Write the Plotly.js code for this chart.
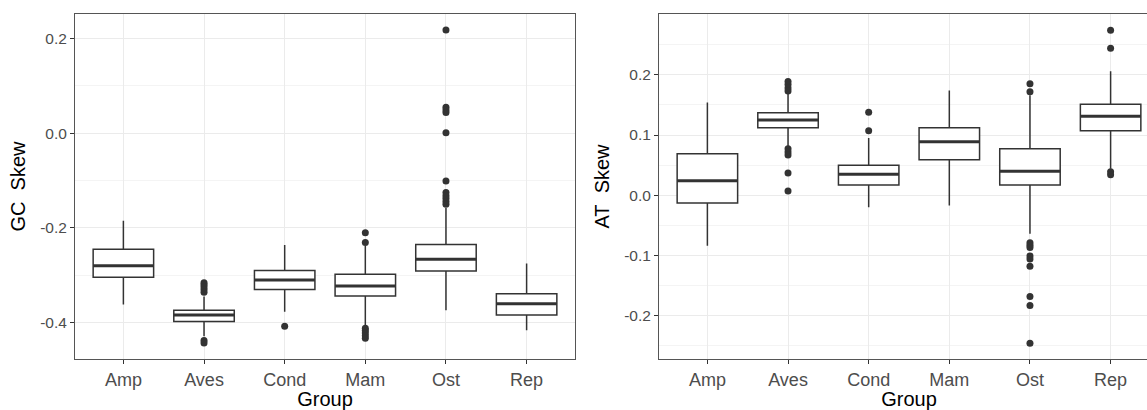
<!DOCTYPE html>
<html>
<head>
<meta charset="utf-8">
<script src="https://cdn.plot.ly/plotly-3.0.1.min.js"></script>
<style>
  html, body { margin: 0; padding: 0; background: #fff; overflow: hidden; }
  #chart { width: 1160px; height: 410px; }
</style>
</head>
<body>
<div id="chart"></div>
<script>
// Taxonomic groups on the x axis
const groups = ['Amp', 'Aves', 'Cond', 'Mam', 'Ost', 'Rep'];

// GC skew: five-number summaries per group
const gcLower  = [-0.362, -0.429, -0.377, -0.405, -0.374, -0.416];
const gcQ1     = [-0.304, -0.398, -0.330, -0.344, -0.291, -0.384];
const gcMedian = [-0.280, -0.384, -0.310, -0.323, -0.266, -0.360];
const gcQ3     = [-0.245, -0.374, -0.290, -0.298, -0.235, -0.339];
const gcUpper  = [-0.185, -0.345, -0.236, -0.238, -0.158, -0.275];

// GC skew outliers per group
const gcOutAmp  = [];
const gcOutAves = [-0.316, -0.320, -0.325, -0.330, -0.336, -0.438, -0.443];
const gcOutCond = [-0.408];
const gcOutMam  = [-0.210, -0.231, -0.412, -0.417, -0.422, -0.428, -0.433];
const gcOutOst  = [0.218, 0.055, 0.049, 0.044, 0.001, -0.101, -0.125, -0.132, -0.138, -0.144, -0.150];
const gcOutRep  = [];

// AT skew: five-number summaries per group
const atLower  = [-0.084, 0.081, -0.020, -0.017, -0.064, 0.044];
const atQ1     = [-0.013, 0.112, 0.017, 0.059, 0.017, 0.107];
const atMedian = [0.024, 0.125, 0.035, 0.089, 0.040, 0.131];
const atQ3     = [0.069, 0.137, 0.050, 0.112, 0.077, 0.151];
const atUpper  = [0.154, 0.169, 0.095, 0.174, 0.166, 0.206];

// AT skew outliers per group
const atOutAmp  = [];
const atOutAves = [0.189, 0.184, 0.178, 0.173, 0.077, 0.072, 0.067, 0.037, 0.007];
const atOutCond = [0.138, 0.107];
const atOutMam  = [];
const atOutOst  = [0.185, 0.172, -0.079, -0.083, -0.087, -0.101, -0.106, -0.118, -0.168, -0.183, -0.246];
const atOutRep  = [0.274, 0.244, 0.039, 0.034];

// Y-axis tick labels
const gcTickVals = [-0.4, -0.2, 0.0, 0.2];
const gcTickText = ['-0.4', '-0.2', '0.0', '0.2'];
const atTickVals = [-0.2, -0.1, 0.0, 0.1, 0.2];
const atTickText = ['-0.2', '-0.1', '0.0', '0.1', '0.2'];

const idx = groups.map((_, i) => i);
const BOX_W = 0.75;
const LINE = '#333333';
const FRAME = '#555555';

function boxTrace(lo, q1, med, q3, hi, xa, ya) {
  return {
    type: 'box', x: idx, lowerfence: lo, q1: q1, median: med, q3: q3, upperfence: hi,
    width: BOX_W, whiskerwidth: 0, fillcolor: '#ffffff',
    line: { color: LINE, width: 1.5 },
    xaxis: xa, yaxis: ya, hoverinfo: 'skip', showlegend: false
  };
}

function medianTrace(med, xa, ya) {
  const xs = [], ys = [];
  med.forEach((m, i) => { xs.push(i - BOX_W / 2, i + BOX_W / 2, null); ys.push(m, m, null); });
  return {
    type: 'scatter', mode: 'lines', x: xs, y: ys,
    line: { color: LINE, width: 3 },
    xaxis: xa, yaxis: ya, hoverinfo: 'skip', showlegend: false
  };
}

function outlierTrace(lists, xa, ya) {
  const xs = [], ys = [];
  lists.forEach((vals, i) => vals.forEach(v => { xs.push(i); ys.push(v); }));
  return {
    type: 'scatter', mode: 'markers', x: xs, y: ys,
    marker: { color: LINE, size: 7 },
    xaxis: xa, yaxis: ya, hoverinfo: 'skip', showlegend: false
  };
}

const data = [
  boxTrace(gcLower, gcQ1, gcMedian, gcQ3, gcUpper, 'x', 'y'),
  medianTrace(gcMedian, 'x', 'y'),
  outlierTrace([gcOutAmp, gcOutAves, gcOutCond, gcOutMam, gcOutOst, gcOutRep], 'x', 'y'),
  boxTrace(atLower, atQ1, atMedian, atQ3, atUpper, 'x2', 'y2'),
  medianTrace(atMedian, 'x2', 'y2'),
  outlierTrace([atOutAmp, atOutAves, atOutCond, atOutMam, atOutOst, atOutRep], 'x2', 'y2')
];

const FONT = 'Liberation Sans, Arial, sans-serif';

function xAxis(domain, anchor) {
  return {
    domain: domain, anchor: anchor, range: [-0.6, 5.6],
    tickmode: 'array', tickvals: idx, ticktext: groups,
    tickfont: { family: FONT, size: 18, color: '#4d4d4d' },
    ticks: 'outside', ticklen: 4, tickwidth: 1, tickcolor: LINE,
    showgrid: true, gridcolor: '#ebebeb', gridwidth: 1,
    zeroline: false, showline: true, mirror: true, linecolor: FRAME, linewidth: 1,
    title: { text: 'Group', font: { family: FONT, size: 20, color: '#000' }, standoff: 1 },
    fixedrange: true
  };
}

function yAxis(range, vals, text, minorStep, anchor, title) {
  return {
    anchor: anchor, range: range,
    tickmode: 'array', tickvals: vals, ticktext: text,
    tickfont: { family: FONT, size: 15.5, color: '#4d4d4d' },
    ticks: 'outside', ticklen: 4, tickwidth: 1, tickcolor: LINE,
    showgrid: true, gridcolor: '#ebebeb', gridwidth: 1,
    minor: { tickmode: 'linear', tick0: 0, dtick: minorStep, showgrid: true,
             gridcolor: '#f0f0f0', gridwidth: 0.7, ticks: '' },
    zeroline: false, showline: true, mirror: true, linecolor: FRAME, linewidth: 1,
    title: { text: title, font: { family: FONT, size: 20, color: '#000' }, standoff: 9 },
    fixedrange: true
  };
}

const W = 1160, ML = 75, MR = 1;
const PW = W - ML - MR;

const layout = {
  width: W, height: 410,
  margin: { l: ML, r: MR, t: 14, b: 51, pad: 0 },
  paper_bgcolor: '#ffffff', plot_bgcolor: '#ffffff',
  font: { family: FONT },
  xaxis: xAxis([0, 500 / PW], 'y'),
  yaxis: yAxis([-0.477, 0.252], gcTickVals, gcTickText, 0.1, 'x', 'GC\u00a0 Skew'),
  xaxis2: xAxis([584 / PW, 1], 'y2'),
  yaxis2: yAxis([-0.272, 0.301], atTickVals, atTickText, 0.05, 'x2', 'AT\u00a0 Skew'),
  showlegend: false
};

Plotly.newPlot('chart', data, layout, { displayModeBar: false, staticPlot: true });
</script>
</body>
</html>
